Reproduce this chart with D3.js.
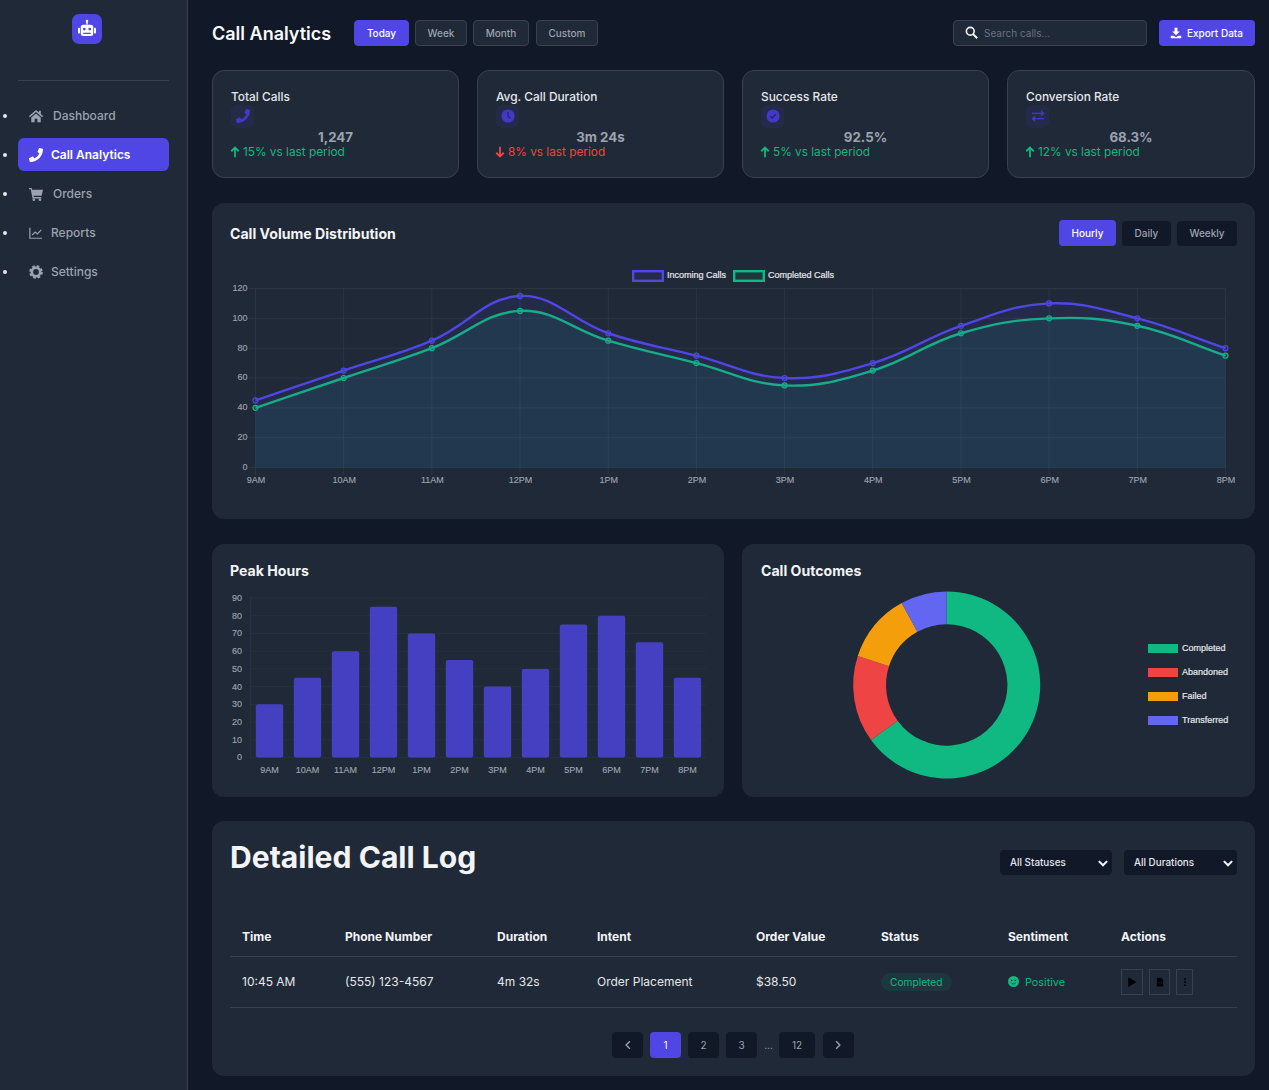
<!DOCTYPE html>
<html lang="en">
<head>
<meta charset="UTF-8">
<title>Call Analytics</title>
<script src="https://d3js.org/d3.v7.min.js"></script>
<style>
    * { box-sizing: border-box; margin: 0; padding: 0; }
    html, body { width: 1269px; height: 1090px; overflow: hidden; background: #111827; font-family: Inter, sans-serif; color: #f3f4f6; }
    .abs { position: absolute; }
    svg.ic { display: block; }
    #sidebar { left: 0; top: 0; width: 188px; height: 1090px; background: #1f2937; border-right: 1px solid #374151; }
    #logo { left: 72px; top: 14px; width: 30px; height: 30px; background: #4f46e5; border-radius: 7px; }
    #divider { left: 18px; top: 80px; width: 151px; height: 1px; background: #374151; }
    .nav { left: 18px; width: 151px; height: 33px; border-radius: 6px; font-size: 12px; font-weight: 500; color: #9ca3af; line-height: 34px; }
    .nav.on { background: #4f46e5; color: #fff; font-weight: 600; }
    .bullet { left: 3px; width: 4px; height: 4px; border-radius: 50%; background: #e5e7eb; }
    h1 { left: 212px; top: 21px; font-size: 18px; font-weight: 600; line-height: 26px; color: #f9fafb; white-space: nowrap; }
    .btn { top: 20px; height: 26px; border-radius: 4px; border: 1px solid #374151; background: #1f2937; color: #9ca3af; font-size: 10px; font-weight: 500; text-align: center; line-height: 25px; }
    .btn.on { background: #4f46e5; border-color: #4f46e5; color: #fff; }
    #search { left: 953px; top: 20px; width: 194px; height: 26px; border-radius: 4px; border: 1px solid #374151; background: #1f2937; color: #6b7280; font-size: 10px; line-height: 25px; padding-left: 30px; }
    #export { left: 1159px; top: 20px; width: 96px; height: 26px; border-radius: 4px; background: #4f46e5; color: #fff; font-size: 10px; font-weight: 500; line-height: 27px; padding-left: 28px; }
    .stat { top: 70px; height: 108px; background: #1f2937; border: 1px solid #374151; border-radius: 12px; }
    .stat .lab { position: absolute; left: 18px; top: 18px; font-size: 11.9px; font-weight: 500; color: #e5e7eb; line-height: 16px; white-space: nowrap; }
    .stat .box { position: absolute; left: 18px; top: 34px; width: 23px; height: 23px; border-radius: 6px; background: rgba(79,70,229,.1); }
    .stat .val { position: absolute; left: 0; right: 0; top: 57px; text-align: center; font-size: 13.3px; font-weight: 700; color: #9ca3af; line-height: 18px; }
    .stat .del { position: absolute; left: 30px; top: 73px; font-size: 11.8px; line-height: 16px; white-space: nowrap; }
    .card { background: #1f2937; border-radius: 12px; }
    .card-title { font-size: 14.1px; font-weight: 700; color: #f3f4f6; white-space: nowrap; line-height: 20px; }
    .tog { top: 221px; height: 25px; border-radius: 4px; background: #111827; color: #9ca3af; font-size: 10px; font-weight: 500; text-align: center; line-height: 25px; }
    .tog.on { top: 220px; height: 26px; background: #4f46e5; color: #fff; line-height: 26px; }
    #logTitle { left: 230px; top: 837px; font-size: 30.1px; font-weight: 700; line-height: 40px; color: #f3f4f6; white-space: nowrap; }
    .sel { top: 850px; height: 25px; border-radius: 4px; background: #111827; font-size: 9.9px; font-weight: 500; color: #e5e7eb; line-height: 24px; padding-left: 10px; }
    table { position: absolute; left: 230px; top: 917px; width: 1007px; border-collapse: collapse; table-layout: fixed; font-size: 12px; }
    th { height: 39px; padding: 0 12px; text-align: left; font-weight: 700; color: #f3f4f6; border-bottom: 1px solid #374151; }
    td { height: 51px; padding: 0 12px; color: #e5e7eb; border-bottom: 1px solid #374151; }
    .badge { display: inline-block; padding: 0 9px; height: 18px; line-height: 19px; border-radius: 9px; font-size: 10.2px; background: rgba(16,185,129,.1); color: #10b981; }
    .sent { font-size: 10.8px; color: #10b981; }
    .act { top: 969px; height: 26px; border: 1px solid #374151; }
    .pg { top: 1032px; height: 26px; border-radius: 4px; background: #111827; color: #9ca3af; font-size: 10px; text-align: center; line-height: 26px; }
    .pg.on { background: #4f46e5; color: #fff; }
    #charts { position: absolute; left: 0; top: 0; }
    #charts text { font-family: "Liberation Sans", Arial, sans-serif; font-size: 9px; fill: #9ca3af; stroke: #9ca3af; stroke-width: 0.15px; }
    #charts text.leg { fill: #e5e7eb; stroke: #e5e7eb; stroke-width: 0.2px; }
</style>
</head>
<body>
<div id="page"></div>
<script>
    // chart data
    const hours = ["9AM", "10AM", "11AM", "12PM", "1PM", "2PM", "3PM", "4PM", "5PM", "6PM", "7PM", "8PM"];
    const incomingCalls = [45, 65, 85, 115, 90, 75, 60, 70, 95, 110, 100, 80];
    const completedCalls = [40, 60, 80, 105, 85, 70, 55, 65, 90, 100, 95, 75];
    const peakCalls = [30, 45, 60, 85, 70, 55, 40, 50, 75, 80, 65, 45];
    const outcomeNames = ["Completed", "Abandoned", "Failed", "Transferred"];
    const outcomeValues = [65, 15, 12, 8];
    const volumeTicks = [0, 20, 40, 60, 80, 100, 120];
    const peakTicks = [0, 10, 20, 30, 40, 50, 60, 70, 80, 90];

    // page text
    const navLabels = ["Dashboard", "Call Analytics", "Orders", "Reports", "Settings"];
    const rangeLabels = ["Today", "Week", "Month", "Custom"];
    const statLabels = ["Total Calls", "Avg. Call Duration", "Success Rate", "Conversion Rate"];
    const statValues = ["1,247", "3m 24s", "92.5%", "68.3%"];
    const statDeltas = ["15% vs last period", "8% vs last period", "5% vs last period", "12% vs last period"];
    const statTrend = [1, -1, 1, 1];
    const volumeToggles = ["Hourly", "Daily", "Weekly"];
    const filterLabels = ["All Statuses", "All Durations"];
    const tableHeaders = ["Time", "Phone Number", "Duration", "Intent", "Order Value", "Status", "Sentiment", "Actions"];
    const tableRow = ["10:45 AM", "(555) 123-4567", "4m 32s", "Order Placement", "$38.50"];
    const pageLabels = ["1", "2", "3", "12"];

    // hand drawn icons, 16x16 box
    const icons = {
        home: '<path d="M8 1 0 8l1.1 1.3L8 3.4l6.9 5.9L16 8l-2.5-2.2V2h-2v2.1z"/><path d="M2.6 9.6 8 5l5.4 4.6V15H9.6v-4H6.4v4H2.6z"/>',
        phone: '<path transform="translate(16,0) scale(-1,1)" d="M15.5 11.3 12 9.8a.8.8 0 0 0-.9.2l-1.5 1.9A11.6 11.6 0 0 1 4.1 6.4L6 4.9a.8.8 0 0 0 .2-.9L4.7.5A.8.8 0 0 0 3.8 0L.6.8A.8.8 0 0 0 0 1.5C0 9.5 6.5 16 14.5 16a.8.8 0 0 0 .7-.6l.8-3.2a.8.8 0 0 0-.5-.9z"/>',
        cart: '<path d="M0 1h3l.6 2H16l-1.6 7H5.2l.3 1.5H14V13H4L2 2.6H0z"/><circle cx="5.5" cy="14.5" r="1.5"/><circle cx="12.5" cy="14.5" r="1.5"/>',
        chart: '<path d="M1 2v12h14" fill="none" stroke="currentColor" stroke-width="1.4"/><path d="M3.5 10.5 7 7l2.5 2L14 4.5" fill="none" stroke="currentColor" stroke-width="1.4"/>',
        cog: '<circle cx="8" cy="8" r="4.8" fill="none" stroke="currentColor" stroke-width="3"/><circle cx="8" cy="8" r="6.6" fill="none" stroke="currentColor" stroke-width="2.4" stroke-dasharray="3 2.18"/>',
        robot: '<rect x="3" y="4.5" width="10" height="9" rx="2"/><rect x="7.4" y="1.5" width="1.2" height="3"/><circle cx="8" cy="1.5" r="1"/><rect x="0.8" y="7" width="1.6" height="4.5" rx=".6"/><rect x="13.6" y="7" width="1.6" height="4.5" rx=".6"/><circle cx="5.8" cy="8" r="1.1" fill="#4f46e5"/><circle cx="10.2" cy="8" r="1.1" fill="#4f46e5"/><rect x="5" y="11" width="6" height="1" fill="#4f46e5"/>',
        clock: '<circle cx="8" cy="8" r="7.5"/><path d="M8 3.5V8.5l3 2" fill="none" stroke="#232b4d" stroke-width="1.4"/>',
        check: '<circle cx="8" cy="8" r="7.5"/><path d="M4.8 8.2 7 10.4l4.2-4.4" fill="none" stroke="#232b4d" stroke-width="1.6"/>',
        swap: '<path d="M1 4.2h10.5V1.5L15.5 5l-4 3.5V5.8H1zM15 10.2H4.5V7.5L.5 11l4 3.5v-2.7H15z"/>',
        search: '<circle cx="6.5" cy="6.5" r="4.8" fill="none" stroke="currentColor" stroke-width="2"/><path d="M10 10l5 5" stroke="currentColor" stroke-width="2.6"/>',
        download: '<path d="M6 1h4v5h3L8 11 3 6h3z"/><path d="M1 11.5h4l3 2 3-2h4V15H1z"/>',
        up: '<path d="M8 15V2M3 7l5-5 5 5" fill="none" stroke="currentColor" stroke-width="2.4"/>',
        down: '<path d="M8 1v13M3 9l5 5 5-5" fill="none" stroke="currentColor" stroke-width="2.4"/>',
        chevDown: '<path d="M2.5 5.5 8 11l5.5-5.5" fill="none" stroke="currentColor" stroke-width="2.8"/>',
        chevLeft: '<path d="M10.5 3 5.5 8l5 5" fill="none" stroke="currentColor" stroke-width="1.8"/>',
        chevRight: '<path d="M5.5 3l5 5-5 5" fill="none" stroke="currentColor" stroke-width="1.8"/>',
        play: '<path d="M3 1.5 14 8 3 14.5z"/>',
        file: '<path d="M3 1h6.5L13 4.5V15H3z"/><rect x="5" y="9" width="6" height="1.2" fill="#1f2937"/>',
        dots: '<circle cx="8" cy="3" r="1.5"/><circle cx="8" cy="8" r="1.5"/><circle cx="8" cy="13" r="1.5"/>',
        smile: '<circle cx="8" cy="8" r="8"/><circle cx="5.4" cy="6.4" r="1" fill="#1f2937"/><circle cx="10.6" cy="6.4" r="1" fill="#1f2937"/><path d="M4.8 10c1.6 2 4.8 2 6.4 0" fill="none" stroke="#1f2937" stroke-width="1.1"/>'
    };

    const page = d3.select("#page");

    function box(parent, cls, left, top, width, text) {
        const el = parent.append("div").attr("class", "abs " + cls);
        if (left !== null) el.style("left", left + "px");
        if (top !== null) el.style("top", top + "px");
        if (width !== null) el.style("width", width + "px");
        if (text) el.text(text);
        return el;
    }

    function icon(parent, name, left, top, size, color) {
        return parent.append("svg").attr("class", "ic")
            .attr("viewBox", "0 0 16 16").attr("width", size).attr("height", size)
            .style("position", "absolute").style("left", left + "px").style("top", top + "px")
            .style("color", color).attr("fill", "currentColor")
            .html(icons[name]);
    }

    // sidebar
    page.append("div").attr("id", "sidebar").attr("class", "abs");
    page.append("div").attr("id", "logo").attr("class", "abs");
    icon(page, "robot", 77, 19, 20, "#fff");
    page.append("div").attr("id", "divider").attr("class", "abs");

    const navIcons = ["home", "phone", "cart", "chart", "cog"];
    navLabels.forEach((label, i) => {
        const top = 99 + i * 39;
        box(page, "bullet", null, top + 15, null);
        const on = i === 1;
        const item = box(page, on ? "nav on" : "nav", null, top, null);
        const color = on ? "#fff" : "#9ca3af";
        icon(item, navIcons[i], 11, 10, 14, color);
        item.append("span").style("position", "absolute").style("left", (i === 0 || i === 2 ? 35 : 33) + "px").text(label);
    });

    // header
    page.append("h1").attr("class", "abs").text("Call Analytics");
    const rangeEdges = [[354, 409], [415, 467], [473, 529], [536, 598]];
    rangeLabels.forEach((label, i) => {
        box(page, i === 0 ? "btn on" : "btn", rangeEdges[i][0], null, rangeEdges[i][1] - rangeEdges[i][0], label);
    });
    page.append("div").attr("id", "search").attr("class", "abs").text("Search calls...");
    icon(page, "search", 965, 26, 13, "#f3f4f6");
    page.append("div").attr("id", "export").attr("class", "abs").text("Export Data");
    icon(page, "download", 1170, 27, 12, "#fff");

    // stat cards
    const statEdges = [[212, 459], [477, 724], [742, 989], [1007, 1255]];
    const statIcons = ["phone", "clock", "check", "swap"];
    statLabels.forEach((label, i) => {
        const c = box(page, "stat", statEdges[i][0], null, statEdges[i][1] - statEdges[i][0]);
        c.append("div").attr("class", "lab").text(label);
        c.append("div").attr("class", "box");
        icon(c, statIcons[i], 23, 38, 14, "#4338ca");
        c.append("div").attr("class", "val").text(statValues[i]);
        const color = statTrend[i] > 0 ? "#10b981" : "#ef4444";
        icon(c, statTrend[i] > 0 ? "up" : "down", 16, 75, 12, color);
        c.append("div").attr("class", "del").style("color", color).text(statDeltas[i]);
    });

    // chart cards
    box(page, "card", 212, 203, 1043).style("height", "316px");
    box(page, "card-title", 230, 224, null, "Call Volume Distribution");
    const togEdges = [[1059, 1116], [1122, 1171], [1177, 1237]];
    volumeToggles.forEach((label, i) => {
        box(page, i === 0 ? "tog on" : "tog", togEdges[i][0], null, togEdges[i][1] - togEdges[i][0], label);
    });
    box(page, "card", 212, 544, 512).style("height", "253px");
    box(page, "card-title", 230, 561, null, "Peak Hours");
    box(page, "card", 742, 544, 513).style("height", "253px");
    box(page, "card-title", 761, 561, null, "Call Outcomes");

    // call log card
    box(page, "card", 212, 821, 1043).style("height", "255px");
    page.append("div").attr("id", "logTitle").attr("class", "abs").text("Detailed Call Log");
    const selEdges = [[1000, 1112], [1124, 1237]];
    filterLabels.forEach((label, i) => {
        box(page, "sel", selEdges[i][0], null, selEdges[i][1] - selEdges[i][0], label);
        icon(page, "chevDown", selEdges[i][1] - 15.5, 857, 12, "#f3f4f6");
    });

    const columnWidths = [103, 152, 100, 159, 125, 127, 113, 128];
    const table = page.append("table");
    table.append("colgroup").selectAll("col").data(columnWidths).join("col").style("width", d => d + "px");
    table.append("thead").append("tr").selectAll("th").data(tableHeaders).join("th").text(d => d);
    const tr = table.append("tbody").append("tr");
    tr.selectAll("td.v").data(tableRow).join("td").attr("class", "v").text(d => d);
    tr.append("td").append("span").attr("class", "badge").text("Completed");
    tr.append("td").append("span").attr("class", "sent").style("padding-left", "17px").text("Positive");
    tr.append("td");
    icon(page, "smile", 1008, 975.5, 11, "#10b981");

    const actionEdges = [[1121, 1143, "play", 12], [1149, 1170, "file", 10], [1176, 1193, "dots", 10]];
    actionEdges.forEach(a => {
        box(page, "act", a[0], null, a[1] - a[0]);
        icon(page, a[2], (a[0] + a[1] - a[3]) / 2, 982 - a[3] / 2, a[3], "#000");
    });

    // pagination
    const pageEdges = [[650, 681], [688, 719], [726, 757], [779, 815]];
    pageLabels.forEach((label, i) => {
        box(page, i === 0 ? "pg on" : "pg", pageEdges[i][0], null, pageEdges[i][1] - pageEdges[i][0], label);
    });
    box(page, "pg", 612, null, 31);
    icon(page, "chevLeft", 622, 1039, 12, "#9ca3af");
    box(page, "pg", 823, null, 31);
    icon(page, "chevRight", 832, 1039, 12, "#9ca3af");
    box(page, "pg", 760, null, 17, "...").style("background", "none");

    // charts all share one page sized svg
    const svg = page.append("svg").attr("id", "charts").attr("width", 1269).attr("height", 1090);
    const gridColor = "#374151";

    // same bezier the canvas charts use with tension .4
    function chartSpline(context) {
        return {
            _context: context,
            areaStart() { this._line = 0; },
            areaEnd() { this._line = NaN; },
            lineStart() { this._pts = []; },
            point(x, y) { this._pts.push([+x, +y]); },
            lineEnd() {
                const pts = this._pts, t = 0.4, ctx = this._context;
                const cps = pts.map((p, i) => {
                    const a = pts[i - 1] || p, b = pts[i + 1] || p;
                    const d01 = Math.hypot(p[0] - a[0], p[1] - a[1]);
                    const d12 = Math.hypot(b[0] - p[0], b[1] - p[1]);
                    const sum = (d01 + d12) || 1;
                    const fa = t * d01 / sum, fb = t * d12 / sum;
                    return {
                        prev: [p[0] - fa * (b[0] - a[0]), p[1] - fa * (b[1] - a[1])],
                        next: [p[0] + fb * (b[0] - a[0]), p[1] + fb * (b[1] - a[1])]
                    };
                });
                pts.forEach((p, i) => {
                    if (i === 0) {
                        if (this._line === 1) ctx.lineTo(p[0], p[1]);
                        else ctx.moveTo(p[0], p[1]);
                    } else {
                        ctx.bezierCurveTo(cps[i - 1].next[0], cps[i - 1].next[1], cps[i].prev[0], cps[i].prev[1], p[0], p[1]);
                    }
                });
                if (this._line === 1) ctx.closePath();
                this._line = 1 - this._line;
            }
        };
    }

    // line chart
    const volX = d3.scalePoint().domain(hours).range([255.5, 1225.5]);
    const volY = d3.scaleLinear().domain([0, 120]).range([467.5, 288.5]);
    const volume = svg.append("g");

    volume.append("g").selectAll("line").data(volumeTicks).join("line")
        .attr("x1", 249).attr("x2", 1225.5).attr("y1", d => volY(d)).attr("y2", d => volY(d))
        .attr("stroke", gridColor).attr("stroke-opacity", 0.5);
    volume.append("g").selectAll("line").data(hours).join("line")
        .attr("x1", d => volX(d)).attr("x2", d => volX(d)).attr("y1", 288.5).attr("y2", 475)
        .attr("stroke", gridColor).attr("stroke-opacity", 0.5);

    const volSeries = [
        { values: completedCalls, color: "#10b981", fill: "rgba(16,185,129,.1)" },
        { values: incomingCalls, color: "#4f46e5", fill: "rgba(79,70,229,.1)" }
    ];
    const volArea = d3.area().x((d, i) => volX(hours[i])).y0(volY(0)).y1(d => volY(d)).curve(chartSpline);
    const volLine = d3.line().x((d, i) => volX(hours[i])).y(d => volY(d)).curve(chartSpline);

    volSeries.forEach(s => {
        volume.append("path").attr("d", volArea(s.values)).attr("fill", s.fill);
        volume.append("path").attr("d", volLine(s.values)).attr("fill", "none").attr("stroke", s.color).attr("stroke-width", 2.4);
        volume.append("g").selectAll("circle").data(s.values).join("circle")
            .attr("cx", (d, i) => volX(hours[i])).attr("cy", d => volY(d)).attr("r", 2.5)
            .attr("fill", s.fill).attr("stroke", s.color).attr("stroke-width", 1.2);
    });

    volume.append("g").attr("transform", "translate(255.5,-1)")
        .call(d3.axisLeft(volY).tickValues(volumeTicks).tickSize(0).tickPadding(8))
        .call(g => g.select(".domain").remove());
    volume.append("g").attr("transform", "translate(0,467.5)")
        .call(d3.axisBottom(volX).tickSize(0).tickPadding(9))
        .call(g => g.select(".domain").remove());

    const volLegend = [["Incoming Calls", 632, "#4f46e5", "rgba(79,70,229,.1)"], ["Completed Calls", 733, "#10b981", "rgba(16,185,129,.1)"]];
    volLegend.forEach(l => {
        volume.append("rect").attr("x", l[1] + 1.2).attr("y", 271.2).attr("width", 29.6).attr("height", 9.6)
            .attr("fill", l[3]).attr("stroke", l[2]).attr("stroke-width", 2.4);
        volume.append("text").attr("class", "leg").attr("x", l[1] + 35).attr("y", 278).text(l[0]);
    });

    // bar chart
    const peakX = d3.scaleBand().domain(hours).range([250.5, 706.5]).paddingInner(0.28).paddingOuter(0.14);
    const peakY = d3.scaleLinear().domain([0, 90]).range([757.5, 598]);
    const peak = svg.append("g");

    peak.append("g").selectAll("line").data(peakTicks).join("line")
        .attr("x1", 250).attr("x2", 706).attr("y1", d => peakY(d)).attr("y2", d => peakY(d))
        .attr("stroke", gridColor).attr("stroke-opacity", 0.3);
    peak.append("line").attr("x1", 250.5).attr("x2", 250.5).attr("y1", 598).attr("y2", 757.5)
        .attr("stroke", gridColor).attr("stroke-opacity", 0.3);
    peak.append("g").selectAll("rect").data(peakCalls).join("rect")
        .attr("x", (d, i) => peakX(hours[i])).attr("width", peakX.bandwidth())
        .attr("y", d => peakY(d)).attr("height", d => peakY(0) - peakY(d)).attr("rx", 2)
        .attr("fill", "#4f46e5").attr("fill-opacity", 0.8);
    peak.append("g").attr("transform", "translate(250,-0.5)")
        .call(d3.axisLeft(peakY).tickValues(peakTicks).tickSize(0).tickPadding(8))
        .call(g => g.select(".domain").remove());
    peak.append("g").attr("transform", "translate(0,757.5)")
        .call(d3.axisBottom(peakX).tickSize(0).tickPadding(9))
        .call(g => g.select(".domain").remove());

    // doughnut
    const outcomeColors = d3.scaleOrdinal().domain(outcomeNames).range(["#10b981", "#ef4444", "#f59e0b", "#6366f1"]);
    const pie = d3.pie().sort(null);
    const arc = d3.arc().innerRadius(60.7).outerRadius(93.5);
    const outcomes = svg.append("g");
    outcomes.append("g").attr("transform", "translate(946.7,685)")
        .selectAll("path").data(pie(outcomeValues)).join("path")
        .attr("d", arc).attr("fill", (d, i) => outcomeColors(outcomeNames[i]));
    outcomeNames.forEach((name, i) => {
        const y = 644 + i * 24;
        outcomes.append("rect").attr("x", 1148).attr("y", y).attr("width", 30).attr("height", 9).attr("fill", outcomeColors(name));
        outcomes.append("text").attr("class", "leg").attr("x", 1182).attr("y", y + 7).text(name);
    });
</script>
</body>
</html>
